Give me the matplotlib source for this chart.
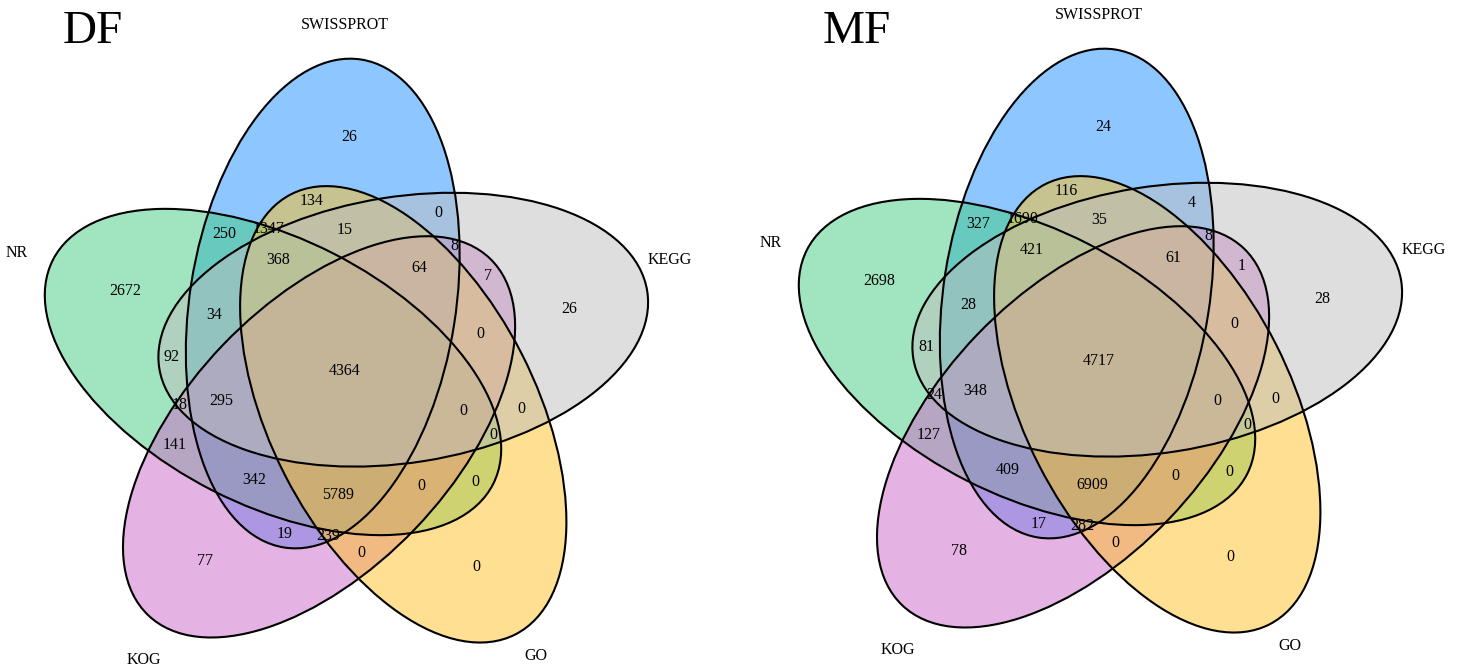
import numpy as np
import matplotlib.pyplot as plt
from matplotlib.patches import Ellipse

plt.rcParams['font.family'] = ['Liberation Serif', 'DejaVu Serif']

# sets in drawing order (counter-clockwise from the top)
set_names = ['SWISSPROT', 'NR', 'KOG', 'GO', 'KEGG']
short = ['S', 'N', 'K', 'G', 'E']
fill_colors = ['#1E90FF', '#43CD80', '#CD69C9', '#FFC125', '#BEBEBE']

# region = letters of the sets it belongs to
regions = ['S', 'N', 'K', 'G', 'E',
           'SN', 'SK', 'SG', 'SE', 'NK', 'NG', 'NE', 'KG', 'KE', 'GE',
           'SNK', 'SNG', 'SNE', 'SKG', 'SKE', 'SGE', 'NKG', 'NKE', 'NGE', 'KGE',
           'SNKG', 'SNKE', 'SNGE', 'SKGE', 'NKGE',
           'SNKGE']

df_counts = [26, 2672, 77, 0, 26,
             250, 19, 134, 0, 141, 0, 92, 0, 7, 0,
             342, 1347, 34, 239, 8, 15, 0, 18, 0, 0,
             5789, 295, 368, 64, 0,
             4364]

mf_counts = [24, 2698, 78, 0, 28,
             327, 17, 116, 4, 127, 0, 81, 0, 1, 0,
             409, 1690, 28, 282, 8, 35, 0, 24, 0, 0,
             6909, 348, 421, 61, 0,
             4717]

# title, panel centre (px, y up), title x
panels = [('DF', 345, 293, 63, df_counts),
          ('MF', 1099, 303, 823, mf_counts)]

A, B = 247, 133      # ellipse semi axes
D = 72               # offset of each ellipse from the panel centre
PHI = -27            # tilt of an ellipse against its offset direction
TURN = [0, 0, 1.2, 0, 0]   # extra turn of an ellipse about its outer tip (deg)
cat_angle = [90, 160, 235, 304, 19]
cat_dist = [347, 349, 351, 342, 343]
SINGLE_PULL = 0.94   # move the one-set labels a bit towards the middle
DIGIT_W, TEXT_H = 6.2, 11


def ellipses(cx, cy):
    out = []
    for i in range(5):
        al = np.deg2rad(108 + 72 * i)
        ex, ey = cx + D * np.cos(al), cy + D * np.sin(al)
        th = al + np.deg2rad(PHI)
        tip = (ex + A * np.cos(th), ey + A * np.sin(th))
        th += np.deg2rad(TURN[i])
        ex, ey = tip[0] - A * np.cos(th), tip[1] - A * np.sin(th)
        out.append((ex, ey, np.rad2deg(th)))
    return out


def region_fields(cx, cy):
    xs = np.arange(cx - 330, cx + 330, 1.0)
    ys = np.arange(cy - 330, cy + 330, 1.0)
    X, Y = np.meshgrid(xs, ys)
    code = np.zeros(X.shape, int)
    dist = np.full(X.shape, np.inf)
    for k, (ex, ey, ang) in enumerate(ellipses(cx, cy)):
        t = np.deg2rad(ang)
        dx, dy = X - ex, Y - ey
        u = dx * np.cos(t) + dy * np.sin(t)
        v = -dx * np.sin(t) + dy * np.cos(t)
        g = np.sqrt((u / A) ** 2 + (v / B) ** 2) + 1e-9
        grad = np.sqrt((u / A ** 2) ** 2 + (v / B ** 2) ** 2) / g + 1e-12
        dist = np.minimum(dist, np.abs(g - 1) / grad)
        code |= (g < 1).astype(int) << k
    return X, Y, code, dist


def label_spot(X, Y, code, dist, c, text):
    # point inside the region whose text box keeps the most room to the border
    inside = code == c
    field = np.where(inside, dist, -dist)
    hw = int(round(DIGIT_W * len(text) / 2)) + 1
    hh = TEXT_H // 2
    score = field.copy()
    for ox in (-hw, 0, hw):
        for oy in (-hh, 0, hh):
            score = np.minimum(score, np.roll(field, (-oy, -ox), axis=(0, 1)))
    score = np.where(inside, score + 0.3 * dist, -np.inf)
    j = np.argmax(score)
    return X.flat[j], Y.flat[j]


def region_code(letters):
    return sum(1 << short.index(ch) for ch in letters)


fig = plt.figure(figsize=(14.61, 6.65), dpi=100)
ax = fig.add_axes([0, 0, 1, 1])
ax.set_xlim(0, 1461)
ax.set_ylim(0, 665)
ax.axis('off')

for title, cx, cy, tx, counts in panels:
    ell = ellipses(cx, cy)
    for (ex, ey, ang), col in zip(ell, fill_colors):
        ax.add_patch(Ellipse((ex, ey), 2 * A, 2 * B, angle=ang,
                             facecolor=col, alpha=0.5, lw=0))
    for ex, ey, ang in ell:
        ax.add_patch(Ellipse((ex, ey), 2 * A, 2 * B, angle=ang,
                             fill=False, edgecolor='black', lw=1.5))

    X, Y, code, dist = region_fields(cx, cy)
    for r, n in zip(regions, counts):
        px, py = label_spot(X, Y, code, dist, region_code(r), str(n))
        if len(r) == 1:
            px = cx + SINGLE_PULL * (px - cx)
            py = cy + SINGLE_PULL * (py - cy)
        ax.text(px, py, str(n), ha='center', va='center', fontsize=11.5)

    for name, a, d in zip(set_names, cat_angle, cat_dist):
        a = np.deg2rad(a)
        ax.text(cx + d * np.cos(a), cy + d * np.sin(a), name,
                ha='center', va='center', fontsize=11.5)
    ax.text(tx, 622, title, fontsize=34, ha='left', va='baseline')

fig.savefig('out.png', dpi=100)
